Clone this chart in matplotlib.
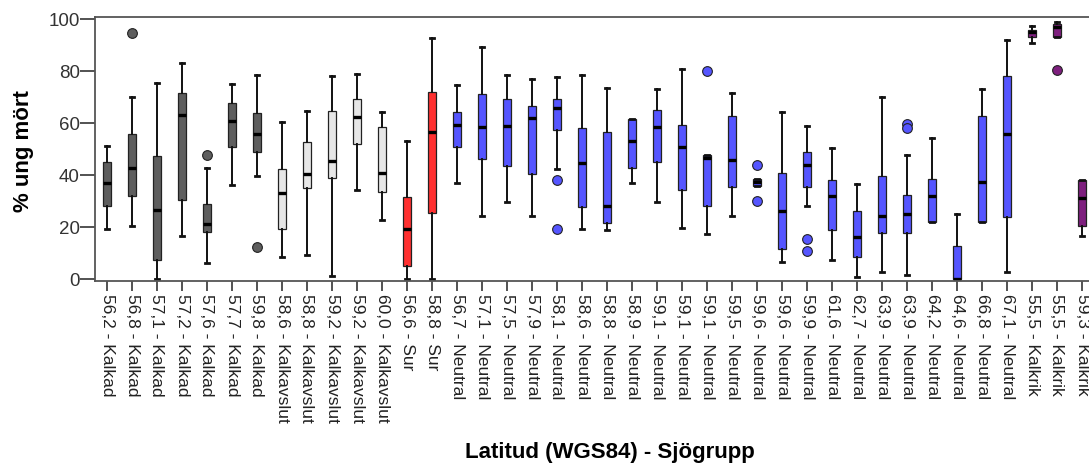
import matplotlib
matplotlib.use('Agg')
import matplotlib.pyplot as plt

plt.rcParams['font.family'] = ['Liberation Sans', 'DejaVu Sans']

# kategorier (latitud - sjögrupp)
latitud = ['56,2', '56,8', '57,1', '57,2', '57,6', '57,7', '59,8',
           '58,6', '58,8', '59,2', '59,2', '60,0',
           '56,6', '58,8',
           '56,7', '57,1', '57,5', '57,9', '58,1', '58,6', '58,8', '58,9',
           '59,1', '59,1', '59,1', '59,5', '59,6', '59,6', '59,9', '61,6',
           '62,7', '63,9', '63,9', '64,2', '64,6', '66,8', '67,1',
           '55,5', '55,5', '59,3']
sjogrupp = ['Kalkad'] * 7 + ['Kalkavslut'] * 5 + ['Sur'] * 2 + ['Neutral'] * 23 + ['Kalkrik'] * 3

# avlästa boxplot-värden (% ung mört)
whislo = [19.1, 20.1, 0.0, 16.3, 5.9, 36.0, 39.6,
          8.2, 9.2, 0.8, 34.1, 22.7,
          0.0, 0.0,
          36.7, 24.0, 29.4, 24.1, 42.2, 19.1, 18.7, 36.7,
          29.4, 19.5, 17.1, 24.0, 35.8, 6.5, 27.8, 7.2,
          0.5, 2.4, 1.5, 21.7, 0.0, 21.9, 2.4,
          90.6, 92.9, 16.3]
q1 = [28.1, 31.9, 7.2, 30.4, 18.0, 50.8, 48.9,
      19.1, 34.8, 38.6, 51.7, 33.2,
      4.7, 25.1,
      50.6, 46.1, 43.2, 40.3, 57.3, 27.4, 21.5, 42.5,
      45.0, 34.2, 28.1, 35.1, 35.8, 11.4, 35.4, 18.7,
      8.4, 17.5, 17.4, 21.7, 0.0, 21.9, 23.8,
      92.9, 92.9, 20.3]
median = [36.7, 42.5, 26.4, 63.0, 20.9, 60.6, 55.7,
          32.9, 40.3, 45.2, 62.3, 40.7,
          19.1, 56.6,
          59.2, 58.5, 58.6, 61.8, 65.8, 44.4, 28.1, 53.1,
          58.3, 50.8, 46.4, 45.6, 37.1, 25.9, 43.7, 31.9,
          16.1, 24.0, 24.9, 31.9, 0.0, 37.3, 55.8,
          94.9, 96.8, 30.9]
q3 = [44.8, 55.7, 47.3, 71.4, 28.7, 67.6, 63.7,
      42.2, 52.5, 64.4, 69.0, 58.3,
      31.3, 71.8,
      64.3, 71.1, 69.2, 66.6, 69.2, 57.9, 56.3, 61.5,
      64.9, 59.3, 47.6, 62.7, 38.3, 40.7, 48.9, 38.1,
      26.1, 39.6, 32.3, 38.3, 12.4, 62.5, 77.9,
      95.8, 98.1, 38.1]
whishi = [51.1, 69.8, 75.2, 83.0, 42.5, 74.9, 78.3,
          60.2, 64.4, 77.9, 78.9, 64.3,
          52.9, 92.8,
          74.7, 89.3, 78.5, 76.8, 77.8, 78.5, 73.4, 61.5,
          73.0, 80.7, 47.6, 71.4, 38.3, 64.3, 58.9, 50.3,
          36.4, 69.8, 47.7, 54.0, 24.9, 73.0, 91.9,
          97.2, 98.7, 38.1]
outliers = [[], [94.5], [], [], [47.7], [], [12.0],
            [], [], [], [], [],
            [], [],
            [], [], [], [], [38.1, 19.1], [], [], [],
            [], [], [80.0], [], [43.7, 30.0], [], [15.2, 10.7], [],
            [], [], [59.5, 57.9], [], [], [], [],
            [], [80.5], []]

farger = {'Kalkad': '#5e5e5e', 'Kalkavslut': '#e6e6e6', 'Sur': '#ff3030',
          'Neutral': '#5555ff', 'Kalkrik': '#7e1f7e'}

stats = []
for i in range(len(latitud)):
    stats.append({'whislo': whislo[i], 'q1': q1[i], 'med': median[i],
                  'q3': q3[i], 'whishi': whishi[i], 'fliers': outliers[i]})

fig = plt.figure(figsize=(10.89, 4.64), dpi=100)
ax = fig.add_axes([95 / 1089, 182 / 464, 999 / 1089, 263.7 / 464])

bp = ax.bxp(stats, positions=range(1, len(stats) + 1), widths=0.3,
            patch_artist=True, capwidths=0.14,
            boxprops=dict(edgecolor='#222222', linewidth=0.9),
            whiskerprops=dict(color='#111111', linewidth=1.4),
            capprops=dict(color='#111111', linewidth=2),
            medianprops=dict(color='black', linewidth=2.4),
            flierprops=dict(marker='o', markersize=7, markeredgecolor='#222222',
                            markeredgewidth=0.8))

for i, box in enumerate(bp['boxes']):
    c = farger[sjogrupp[i]]
    box.set_facecolor(c)
    bp['fliers'][i].set_markerfacecolor(c)

ax.set_xlim(0.52, 40.48)
ax.set_ylim(-0.96, 100.65)
ax.set_yticks([0, 20, 40, 60, 80, 100])
ax.set_xticks(range(1, len(latitud) + 1))
ax.set_xticklabels([f'{l} - {g}' for l, g in zip(latitud, sjogrupp)],
                   rotation=270, ha='center', va='top', fontsize=12.5, color='#222222')
ax.tick_params(axis='y', length=11, width=1.3, pad=0, labelsize=13.5,
               labelcolor='#333333', color='#444444')
ax.tick_params(axis='x', length=7.5, width=1.3, pad=1, color='#444444')
for s in ax.spines.values():
    s.set_color('#555555')
    s.set_linewidth(1.3)

fig.text(23 / 1089, 1 - 151 / 464, '% ung mört', rotation=90, ha='center',
         va='center', fontsize=16, fontweight='bold')
fig.text(610 / 1089, 1 - 453 / 464, 'Latitud (WGS84) - Sjögrupp', ha='center',
         va='center', fontsize=16, fontweight='bold')

fig.savefig('out.png', dpi=100)
